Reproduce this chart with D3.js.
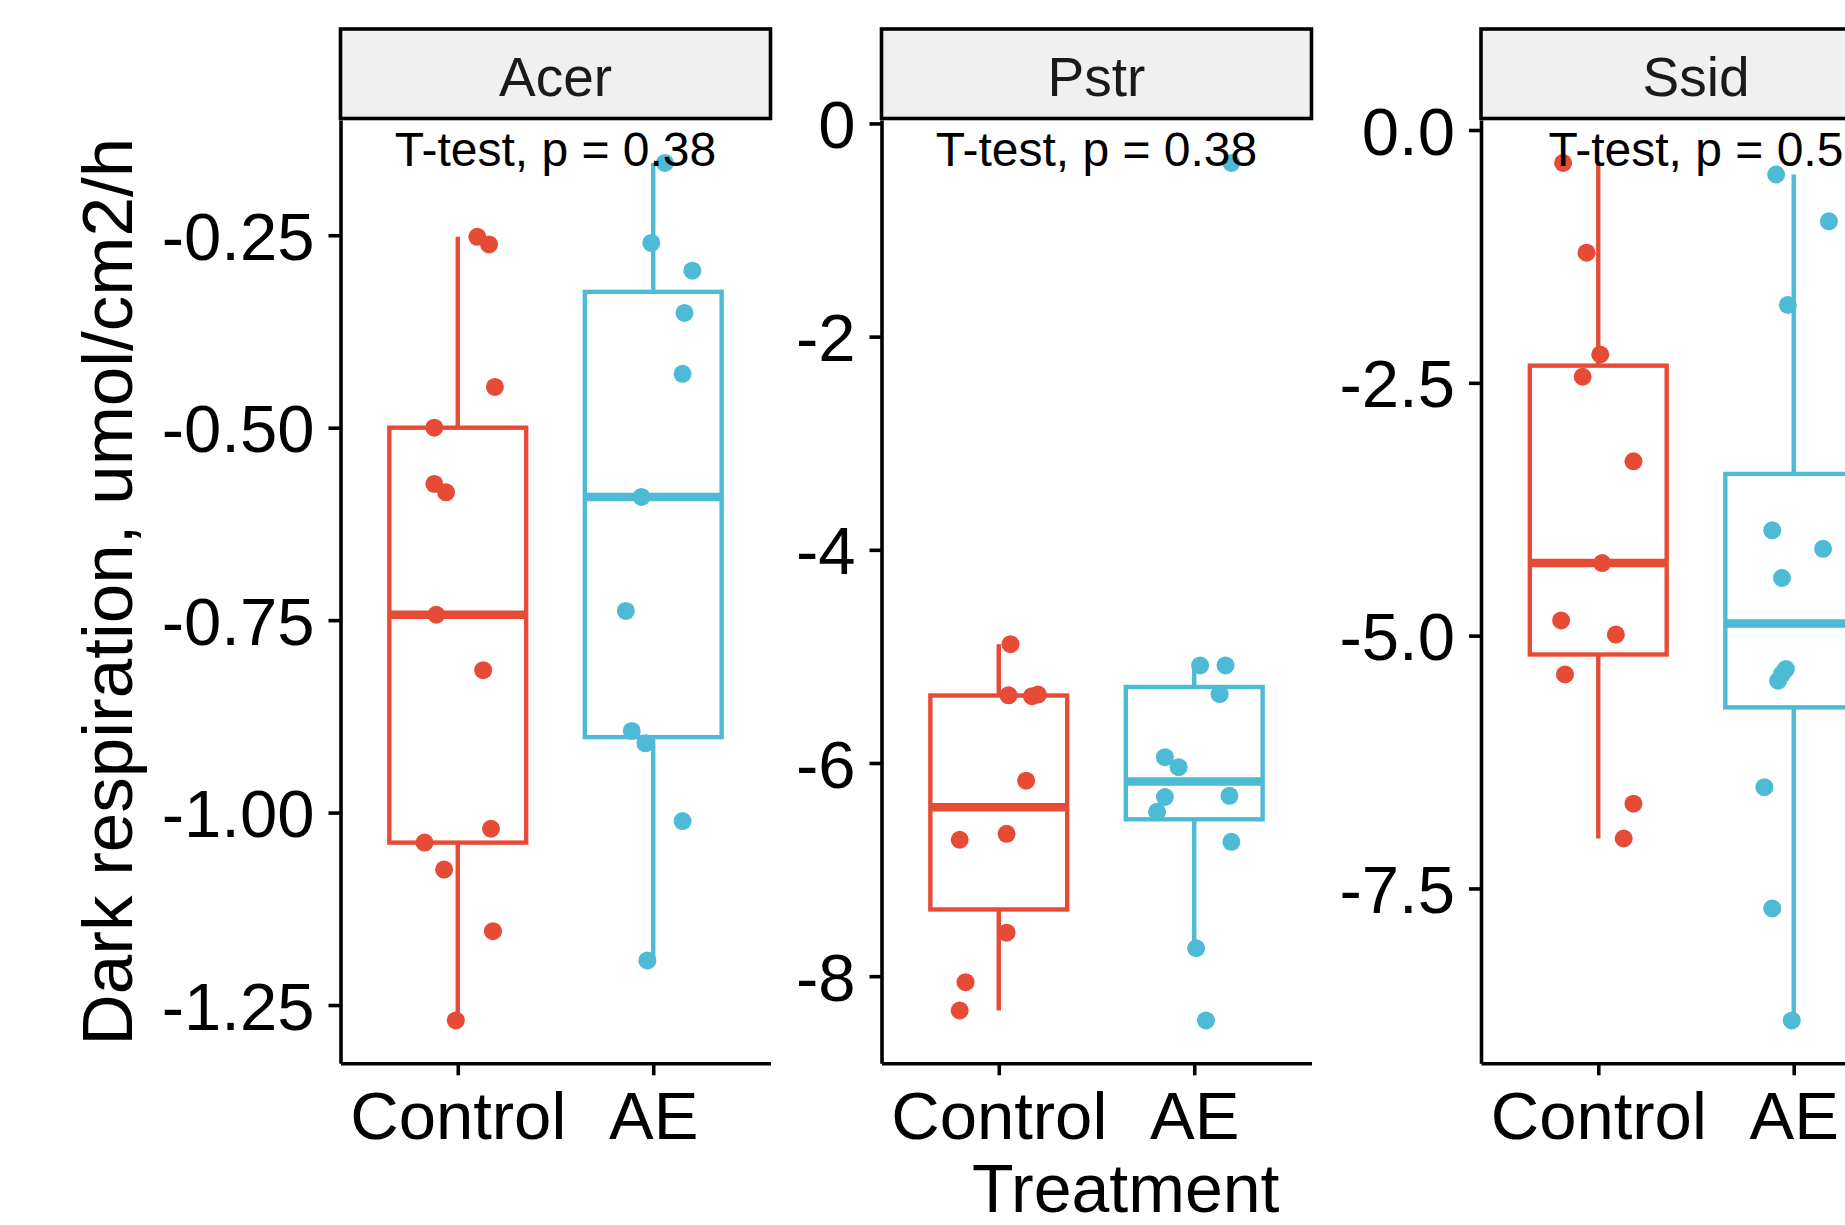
<!DOCTYPE html>
<html>
<head>
<meta charset="utf-8">
<script src="https://cdn.jsdelivr.net/npm/d3@7"></script>
<style>
  html, body { margin: 0; padding: 0; background: #ffffff; overflow: hidden; }
  svg { display: block; }
  text { font-family: "Liberation Sans", Arial, Helvetica, sans-serif; }
</style>
</head>
<body>
<svg id="chart" width="1845" height="1225"></svg>
<script>
// ---------------- data ----------------
const facets = ["Acer", "Pstr", "Ssid"];
const treatments = ["Control", "AE"];
const pLabels = ["T-test, p = 0.38", "T-test, p = 0.38", "T-test, p = 0.5"];

const acerControl = [-0.252, -0.262, -0.447, -0.500, -0.573, -0.584, -0.743, -0.815, -1.021, -1.039, -1.074, -1.154, -1.270];
const acerControlJitter = [0.10, 0.16, 0.19, -0.12, -0.12, -0.06, -0.11, 0.13, 0.17, -0.17, -0.07, 0.18, -0.01];
const acerAE = [-0.156, -0.260, -0.296, -0.351, -0.430, -0.590, -0.738, -0.894, -0.910, -1.011, -1.192];
const acerAEJitter = [0.06, -0.01, 0.20, 0.16, 0.15, -0.06, -0.14, -0.11, -0.04, 0.15, -0.03];

const pstrControl = [-4.885, -5.365, -5.373, -5.358, -6.166, -6.664, -6.720, -7.592, -8.056, -8.322];
const pstrControlJitter = [0.06, 0.05, 0.17, 0.20, 0.14, 0.04, -0.20, 0.04, -0.17, -0.20];
const pstrAE = [-0.37, -5.085, -5.085, -5.354, -5.945, -6.039, -6.319, -6.308, -6.458, -6.739, -7.738, -8.415];
const pstrAEJitter = [0.19, 0.03, 0.16, 0.13, -0.15, -0.08, -0.15, 0.18, -0.19, 0.19, 0.01, 0.06];

const ssidControl = [-0.325, -1.213, -2.220, -2.440, -3.276, -4.282, -4.850, -4.989, -5.384, -6.662, -7.006];
const ssidControlJitter = [-0.18, -0.06, 0.01, -0.08, 0.18, 0.02, -0.19, 0.09, -0.17, 0.18, 0.13];
const ssidAE = [-0.440, -0.903, -1.730, -3.958, -4.141, -4.430, -5.330, -5.446, -5.380, -6.499, -7.697, -8.805];
const ssidAEJitter = [-0.09, 0.18, -0.03, -0.11, 0.15, -0.06, -0.04, -0.08, -0.06, -0.15, -0.11, -0.01];

const acerTicks = [-1.25, -1.00, -0.75, -0.50, -0.25];
const acerTickLabels = ["-1.25", "-1.00", "-0.75", "-0.50", "-0.25"];
const pstrTicks = [-8, -6, -4, -2, 0];
const pstrTickLabels = ["-8", "-6", "-4", "-2", "0"];
const ssidTicks = [-7.5, -5.0, -2.5, 0.0];
const ssidTickLabels = ["-7.5", "-5.0", "-2.5", "0.0"];

const yTitle = "Dark respiration, umol/cm2/h";
const xTitle = "Treatment";
const colors = { Control: "#E64B35", AE: "#4DBBD5" };

// ---------------- layout ----------------
const panelLefts = [340.5, 881.5, 1481];
const panelWidth = 430;
const panelTop = 120;
const panelBottom = 1063.3;
const stripTop = 29, stripBottom = 118.5;
const axisW = 3.6;
const boxLineW = 4.4;
const medianW = 8.5;
const pointR = 9;
const boxW = 0.7;
const fontTick = 67, fontTitle = 71, fontStrip = 55, fontStat = 48;

const panels = [
  { name: facets[0], groups: { Control: [acerControl, acerControlJitter], AE: [acerAE, acerAEJitter] }, ticks: acerTicks, labels: acerTickLabels, p: pLabels[0] },
  { name: facets[1], groups: { Control: [pstrControl, pstrControlJitter], AE: [pstrAE, pstrAEJitter] }, ticks: pstrTicks, labels: pstrTickLabels, p: pLabels[1] },
  { name: facets[2], groups: { Control: [ssidControl, ssidControlJitter], AE: [ssidAE, ssidAEJitter] }, ticks: ssidTicks, labels: ssidTickLabels, p: pLabels[2] }
];

const svg = d3.select("#chart");
svg.append("rect").attr("width", 1845).attr("height", 1225).attr("fill", "#ffffff");

function boxStats(vals) {
  const s = vals.slice().sort(d3.ascending);
  const q1 = d3.quantileSorted(s, 0.25), med = d3.quantileSorted(s, 0.5), q3 = d3.quantileSorted(s, 0.75);
  const iqr = q3 - q1;
  const lo = d3.min(s.filter(v => v >= q1 - 1.5 * iqr));
  const hi = d3.max(s.filter(v => v <= q3 + 1.5 * iqr));
  return { q1, med, q3, lo, hi };
}

panels.forEach((pn, i) => {
  const left = panelLefts[i], right = left + panelWidth;
  const allVals = d3.merge(treatments.map(t => pn.groups[t][0]));
  const ext = d3.extent(allVals);
  const pad = (ext[1] - ext[0]) * 0.05;
  const y = d3.scaleLinear().domain([ext[0] - pad, ext[1] + pad]).range([panelBottom, panelTop]);
  const x = d3.scalePoint().domain(treatments).range([left, right]).padding(0.6);
  const step = x.step();

  const g = svg.append("g");

  // strip
  g.append("rect")
    .attr("x", left).attr("y", stripTop)
    .attr("width", panelWidth).attr("height", stripBottom - stripTop)
    .attr("fill", "#F0F0F0").attr("stroke", "#000").attr("stroke-width", axisW);
  g.append("text")
    .attr("x", (left + right) / 2).attr("y", 95.5)
    .attr("text-anchor", "middle").attr("font-size", fontStrip).attr("fill", "#1A1A1A")
    .text(pn.name);

  // boxes
  treatments.forEach(t => {
    const vals = pn.groups[t][0];
    const st = boxStats(vals);
    const cx = x(t);
    const c = colors[t];
    const bw = boxW * step;
    g.append("line").attr("x1", cx).attr("x2", cx).attr("y1", y(st.q3)).attr("y2", y(st.hi))
      .attr("stroke", c).attr("stroke-width", boxLineW);
    g.append("line").attr("x1", cx).attr("x2", cx).attr("y1", y(st.q1)).attr("y2", y(st.lo))
      .attr("stroke", c).attr("stroke-width", boxLineW);
    g.append("rect").attr("x", cx - bw / 2).attr("y", y(st.q3))
      .attr("width", bw).attr("height", y(st.q1) - y(st.q3))
      .attr("fill", "none").attr("stroke", c).attr("stroke-width", boxLineW);
    g.append("line").attr("x1", cx - bw / 2).attr("x2", cx + bw / 2).attr("y1", y(st.med)).attr("y2", y(st.med))
      .attr("stroke", c).attr("stroke-width", medianW);
  });

  // jittered points
  treatments.forEach(t => {
    const [vals, jit] = pn.groups[t];
    g.selectAll(null).data(vals.map((v, k) => ({ v, j: jit[k] }))).enter()
      .append("circle")
      .attr("cx", d => x(t) + d.j * step)
      .attr("cy", d => y(d.v))
      .attr("r", pointR)
      .attr("fill", colors[t]);
  });

  // stat label
  g.append("text")
    .attr("x", (left + right) / 2).attr("y", 166)
    .attr("text-anchor", "middle").attr("font-size", fontStat).attr("fill", "#000")
    .text(pn.p);

  // y axis
  const ya = g.append("g").attr("transform", `translate(${left},0)`)
    .call(d3.axisLeft(y).tickValues(pn.ticks).tickFormat((d, k) => pn.labels[k]).tickSize(12).tickSizeOuter(0).tickPadding(14));
  ya.select(".domain").attr("stroke", "#000").attr("stroke-width", axisW);
  ya.selectAll(".tick line").attr("stroke", "#000").attr("stroke-width", axisW);
  ya.selectAll(".tick text").attr("font-size", fontTick).attr("fill", "#000").attr("dy", "0.36em")
    .attr("font-family", "Liberation Sans, Arial, sans-serif");

  // x axis
  const xa = g.append("g").attr("transform", `translate(0,${panelBottom})`)
    .call(d3.axisBottom(x).tickSize(12).tickSizeOuter(0).tickPadding(16));
  xa.select(".domain").attr("stroke", "#000").attr("stroke-width", axisW);
  xa.selectAll(".tick line").attr("stroke", "#000").attr("stroke-width", axisW);
  xa.selectAll(".tick text").attr("font-size", fontTick).attr("fill", "#000")
    .attr("font-family", "Liberation Sans, Arial, sans-serif");
});

// axis titles
svg.append("text")
  .attr("transform", `translate(132,${(panelTop + panelBottom) / 2}) rotate(-90)`)
  .attr("text-anchor", "middle").attr("font-size", fontTitle).attr("fill", "#000")
  .text(yTitle);
svg.append("text")
  .attr("x", (panelLefts[0] + panelLefts[2] + panelWidth) / 2).attr("y", 1212)
  .attr("text-anchor", "middle").attr("font-size", 68).attr("fill", "#000")
  .text(xTitle);
</script>
</body>
</html>
